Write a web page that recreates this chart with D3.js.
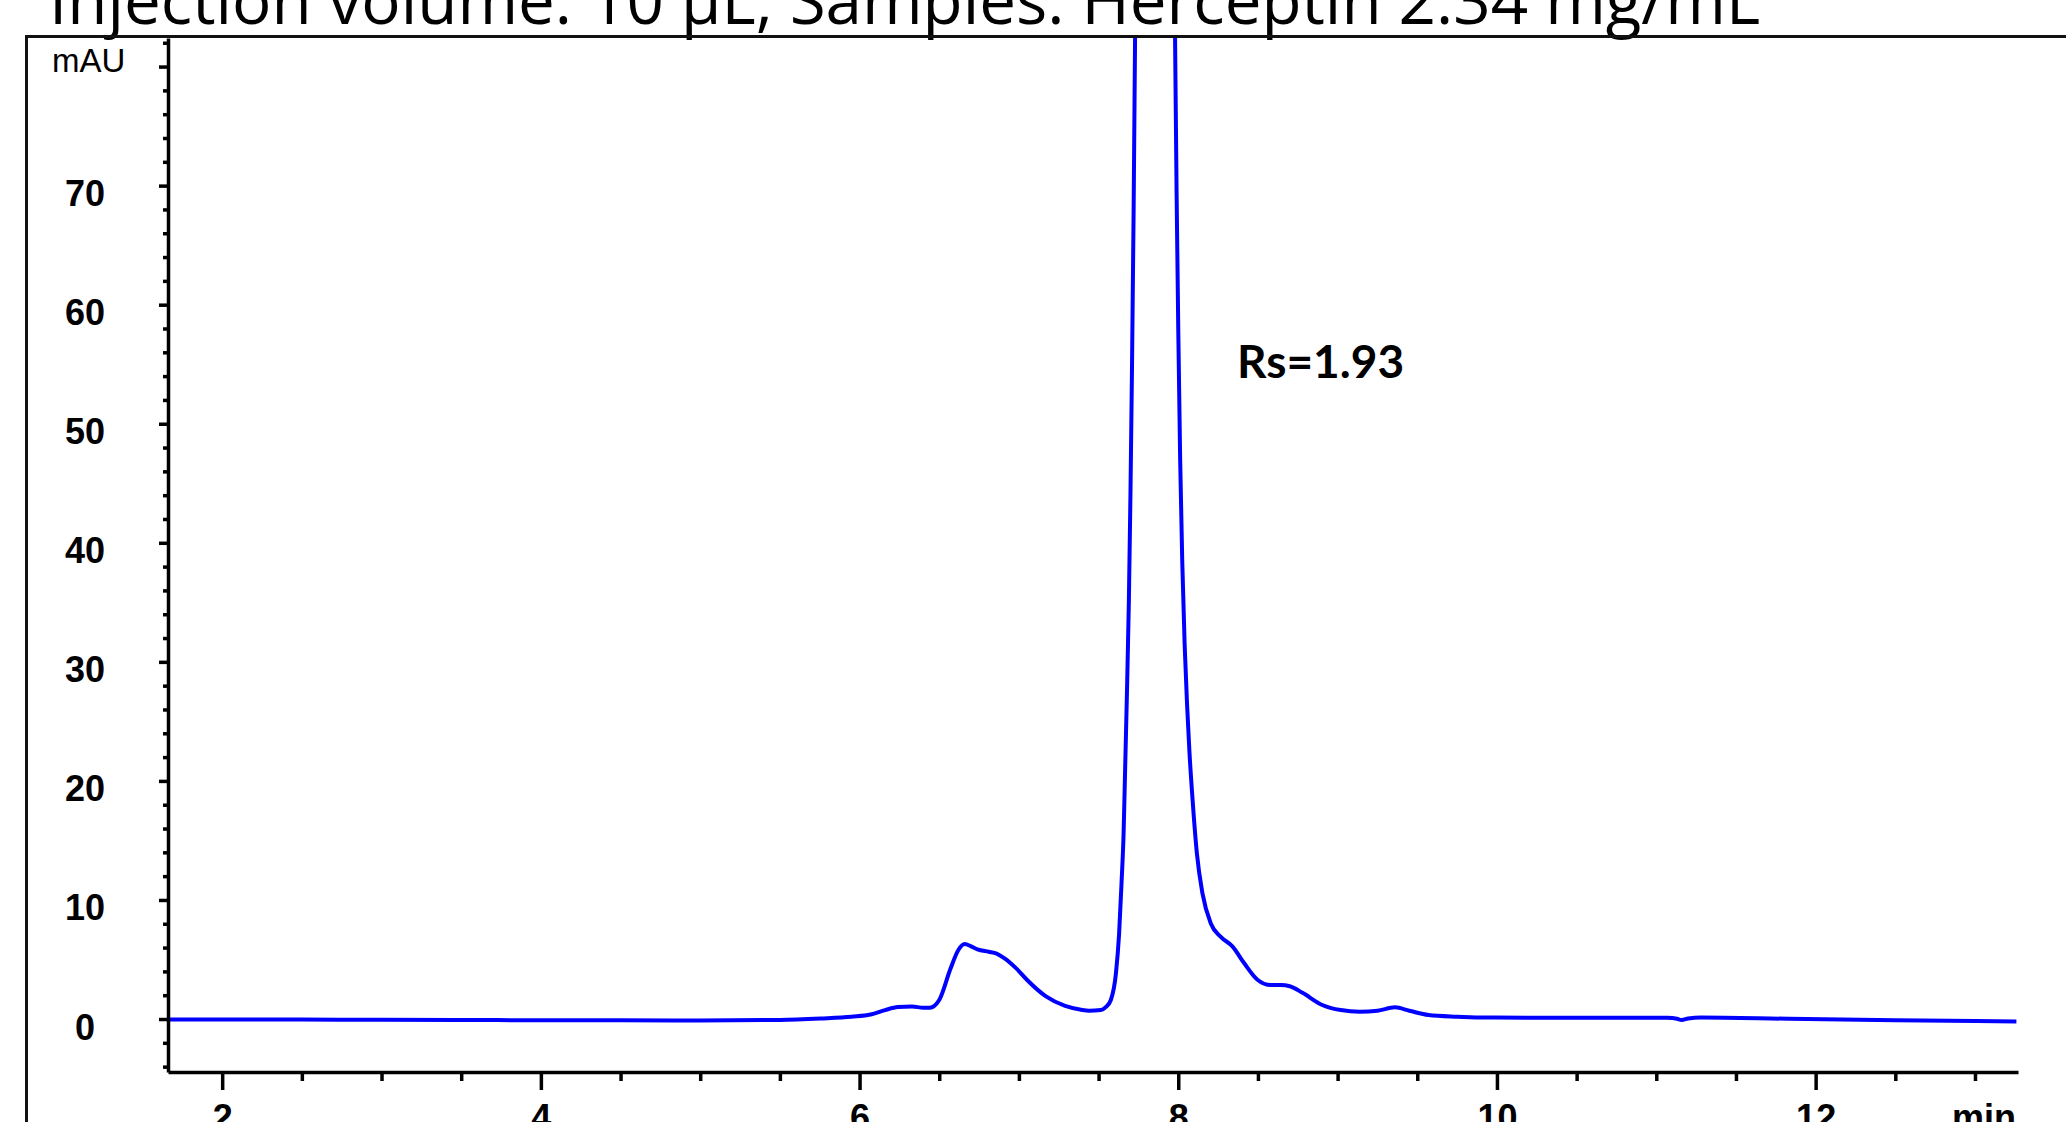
<!DOCTYPE html>
<html lang="en">
<head>
    <meta charset="UTF-8">
    <title>Herceptin SEC chromatogram</title>
    <style>
        body, html {
            margin: 0;
            padding: 0;
            background-color: #ffffff;
            overflow: hidden;
        }

        .axis path, .axis line {
            stroke: #000;
            stroke-width: 3.5px;
        }

        .axis text {
            font-family: "Liberation Sans", Arial, sans-serif;
            font-size: 36px;
            font-weight: bold;
            fill: #000;
        }

        .trace {
            fill: none;
            stroke: #0000ff;
            stroke-width: 4px;
            stroke-linejoin: round;
        }
    </style>
</head>
<body>
    <div id="chart"></div>

    <script src="https://d3js.org/d3.v7.min.js"></script>
    <script>
        // retention time (min) and absorbance (mAU)
        const times = [1.66, 2.5, 3.0, 3.5, 4.0, 4.5, 5.0, 5.5, 5.76, 5.95,
            6.07, 6.16, 6.24, 6.33, 6.40, 6.44, 6.50, 6.57, 6.62, 6.66,
            6.70, 6.74, 6.81, 6.86, 6.91, 6.98, 7.05, 7.17, 7.29, 7.39,
            7.44, 7.514, 7.545, 7.577, 7.609, 7.629, 7.644, 7.657, 7.667, 7.677,
            7.69, 7.70, 7.71, 7.72, 7.729, 7.855, 7.98, 7.99, 8.0, 8.012,
            8.025, 8.04, 8.055, 8.07, 8.09, 8.117, 8.152, 8.205, 8.267, 8.34,
            8.413, 8.497, 8.58, 8.644, 8.70, 8.78, 8.90, 9.02, 9.14, 9.25,
            9.36, 9.45, 9.57, 9.75, 9.99, 10.5, 11.07, 11.13, 11.16, 11.20,
            11.28, 11.83, 12.5, 13.26];
        const mAU = [-0.05, -0.05, -0.06, -0.08, -0.1, -0.1, -0.12, -0.08, 0.05, 0.2,
            0.38, 0.75, 1.0, 1.05, 0.95, 0.95, 1.6, 4.2, 5.8, 6.3,
            6.1, 5.85, 5.65, 5.5, 5.1, 4.3, 3.3, 1.9, 1.1, 0.78,
            0.7, 0.75, 1.0, 1.6, 3.84, 7.2, 11.4, 15.6, 21.2, 26.8,
            35, 44, 55, 68, 82.4, 260, 82.4, 69, 58, 47,
            38.5, 31.5, 26.5, 22.5, 18.4, 13.9, 10.55, 8.0, 6.9, 6.1,
            4.7, 3.3, 2.85, 2.85, 2.75, 2.2, 1.2, 0.75, 0.62, 0.7,
            0.98, 0.7, 0.34, 0.2, 0.12, 0.1, 0.1, 0.02, -0.08, 0.05,
            0.13, 0.02, -0.1, -0.2];

        const xMajor = [2, 4, 6, 8, 10, 12];
        const xMinor = [2.5, 3, 3.5, 4.5, 5, 5.5, 6.5, 7, 7.5, 8.5, 9, 9.5, 10.5, 11, 11.5, 12.5, 13];
        const yMajor = [0, 10, 20, 30, 40, 50, 60, 70, 80];
        const yMinor = [-4, -2, 2, 4, 6, 8, 12, 14, 16, 18, 22, 24, 26, 28, 32, 34, 36, 38,
            42, 44, 46, 48, 52, 54, 56, 58, 62, 64, 66, 68, 72, 74, 76, 78, 82];

        const titleText = "Injection volume: 10 µL, Samples: Herceptin 2.34 mg/mL";
        const noteText = "Rs=1.93";

        const width = 2066, height = 1122;
        const plot = { left: 168, right: 2018, top: 38, bottom: 1072 };

        const svg = d3.select('#chart').append('svg')
            .attr('width', width)
            .attr('height', height)
            .style('display', 'block');

        const x = d3.scaleLinear().domain([1.66, 13.27]).range([plot.left, plot.right]);
        const y = d3.scaleLinear().domain([-4.45, 82.4]).range([plot.bottom, plot.top]);

        // title, cut by the top edge
        svg.append('text')
            .attr('x', 49)
            .attr('y', 24)
            .style('font-family', '"Open Sans", sans-serif')
            .style('font-size', '65.5px')
            .text(titleText);

        // outer frame (only left and top edges are visible)
        svg.append('path')
            .attr('d', `M26.5,${height}V36.5H${width}`)
            .attr('fill', 'none')
            .attr('stroke', '#111')
            .attr('stroke-width', 3);

        svg.append('defs').append('clipPath').attr('id', 'plot-clip')
            .append('rect')
            .attr('x', plot.left)
            .attr('y', plot.top)
            .attr('width', plot.right - plot.left)
            .attr('height', plot.bottom - plot.top);

        const line = d3.line()
            .x(i => x(times[i]))
            .y(i => y(mAU[i]))
            .curve(d3.curveMonotoneX);

        svg.append('path')
            .attr('class', 'trace')
            .attr('clip-path', 'url(#plot-clip)')
            .attr('d', line(d3.range(times.length)));

        // y axis
        const yAxis = svg.append('g')
            .attr('class', 'axis')
            .attr('transform', `translate(${plot.left},0)`)
            .call(d3.axisLeft(y).tickValues(yMajor).tickSize(9).tickSizeOuter(0)
                .tickFormat(d => d === 80 ? '' : d));
        yAxis.selectAll('text')
            .attr('x', -83)
            .attr('dy', 20)
            .attr('text-anchor', 'middle');

        svg.append('g')
            .attr('class', 'axis')
            .attr('transform', `translate(${plot.left},0)`)
            .call(d3.axisLeft(y).tickValues(yMinor).tickSize(5).tickFormat(''))
            .select('.domain').remove();

        // x axis
        svg.append('g')
            .attr('class', 'axis')
            .attr('transform', `translate(0,${plot.bottom})`)
            .call(d3.axisBottom(x).tickValues(xMajor).tickSize(18).tickSizeOuter(0).tickPadding(14));

        svg.append('g')
            .attr('class', 'axis')
            .attr('transform', `translate(0,${plot.bottom})`)
            .call(d3.axisBottom(x).tickValues(xMinor).tickSize(9).tickFormat(''))
            .select('.domain').remove();

        // axis units
        svg.append('text')
            .attr('x', 52)
            .attr('y', 72)
            .style('font-family', '"Liberation Sans", Arial, sans-serif')
            .style('font-size', '33px')
            .text('mAU');

        svg.append('text')
            .attr('x', 2016)
            .attr('y', plot.bottom + 32)
            .attr('dy', '0.71em')
            .attr('text-anchor', 'end')
            .style('font-family', '"Liberation Sans", Arial, sans-serif')
            .style('font-size', '36px')
            .style('font-weight', 'bold')
            .text('min');

        svg.append('text')
            .attr('x', 1237)
            .attr('y', 378)
            .style('font-family', 'Lato, sans-serif')
            .style('font-size', '46px')
            .style('font-weight', 'bold')
            .text(noteText);
    </script>
</body>
</html>
